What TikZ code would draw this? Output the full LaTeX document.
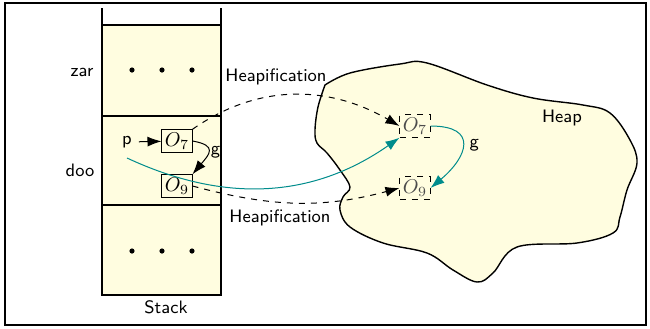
\documentclass[tikz,border=0pt]{standalone}
\usetikzlibrary{arrows.meta}
\definecolor{stackfill}{RGB}{255,253,224}
\definecolor{myteal}{RGB}{0,140,140}
\begin{document}
\begin{tikzpicture}[x=0.5pt,y=-0.5pt,
  lbl/.style={font=\fontsize{9}{11}\sffamily},
  obj/.style={draw,inner sep=1.5pt,fill=stackfill},
  hobj/.style={draw,dashed,inner sep=1.5pt,text=black!70},
  ptr/.style={-{Latex[length=7pt,width=5pt]},line width=0.5pt},
  heapif/.style={ptr,dashed},
  tealptr/.style={ptr,draw=myteal,-{Latex[length=7pt,width=5pt,fill=myteal]}}]
\useasboundingbox (0,0) rectangle (650,328);
\draw[line width=0.8pt] (5,3) rectangle (646,325);
% stack
\fill[stackfill] (102,25) rectangle (221,295);
\draw[line width=0.6pt] (102,8) -- (102,295) -- (221,295) -- (221,8);
\draw[line width=0.6pt] (102,25) -- (221,25);
\draw[line width=0.6pt] (102,116) -- (221,116);
\draw[line width=0.6pt] (102,205) -- (221,205);
\foreach \x in {132,162,192} {
  \fill (\x,70) circle (1.3pt);
  \fill (\x,251) circle (1.3pt);
}
\node[lbl] (zar) at (82,72) {zar};
\node[lbl] (doo) at (80,170) {doo};
\node[lbl] (stack) at (166,307) {Stack};
% heap
\draw[fill=stackfill,line width=0.7pt] plot[smooth,tension=0.6] coordinates {
 (325,85) (350,73) (400,64) (427,63) (487,85) (533,98) (583,105) (610,113)
 (630,140) (637,163) (627,190) (620,217) (613,233) (577,243) (517,247)
 (493,273) (477,282) (453,270) (427,253) (383,243) (350,227) (340,210)
 (343,197) (350,187) (340,170) (327,153) (317,143) (315,130) (318,107) (325,85)} -- cycle;
\node[lbl] (heap) at (562,118) {Heap};
% objects
\node[lbl] (p) at (127,142) {p};
\node[obj] (o7) at (177,141) {$O_7$};
\node[obj] (o9) at (177,186) {$O_9$};
\node[hobj] (h7) at (415,126) {$O_7$};
\node[hobj] (h9) at (415,188) {$O_9$};
\draw[ptr] (p) -- (o7);
\draw[ptr] (o7.east) to[out=-10,in=50,looseness=2] node[lbl,right,inner sep=1pt,pos=0.5] {g} (o9.north east);
\draw[heapif] (o7.north east) to[out=35,in=150] (h7.west);
\draw[heapif] (o9.east) to[out=-15,in=-165] (h9.west);
\node[lbl] (hup) at (276,77) {Heapification};
\node[lbl] (hdown) at (280,218) {Heapification};
\draw[tealptr] ([yshift=-8pt]p.center) to[out=-25,in=-145] (h7.south west);
\draw[tealptr] (h7.east) to[out=0,in=40,looseness=2] node[lbl,right,text=black,pos=0.5] {g} (h9.east);
\end{tikzpicture}
\end{document}
